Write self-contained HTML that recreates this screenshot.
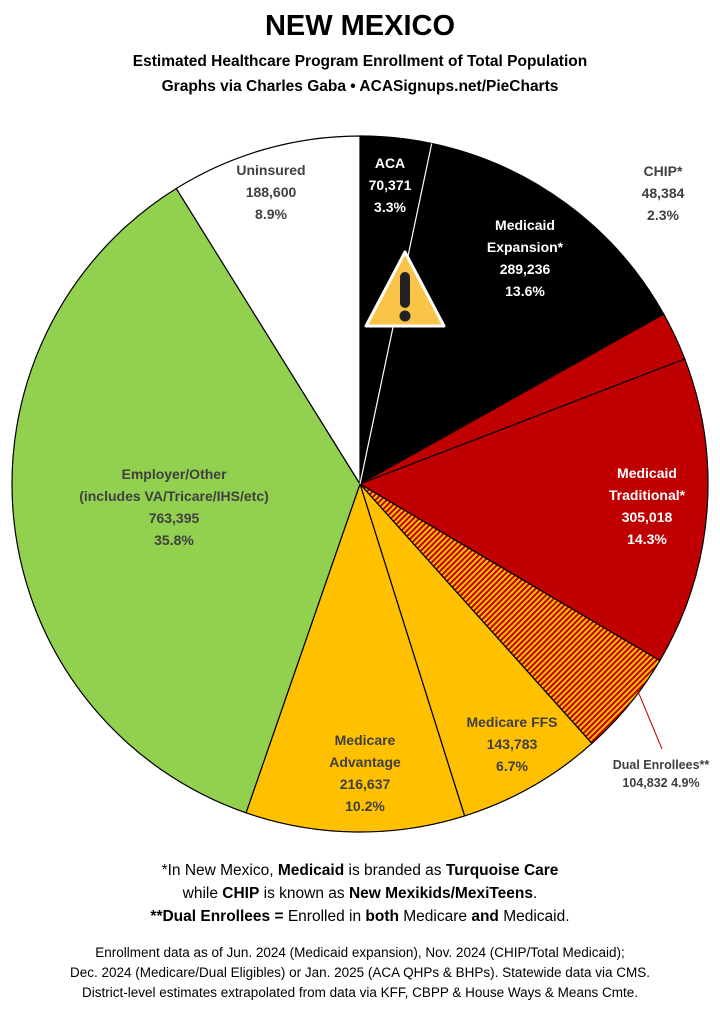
<!DOCTYPE html>
<html><head><meta charset="utf-8"><style>
body{margin:0;background:#fff;width:720px;height:1010px;overflow:hidden;font-family:"Liberation Sans",sans-serif}
svg text{font-family:"Liberation Sans",sans-serif;font-weight:bold}
</style></head><body>
<svg id="s" width="720" height="1010" xmlns="http://www.w3.org/2000/svg">
<defs>
<pattern id="h" patternUnits="userSpaceOnUse" width="4" height="4" patternTransform="rotate(45)">
<rect width="4" height="4" fill="#C00000"/><rect width="2" height="4" fill="#FFC000"/>
</pattern>
</defs>
<g id="pie"></g>
<polygon points="405,252 444,326 366,326" fill="#F9C447" stroke="#fff" stroke-width="3" stroke-linejoin="round"/>
<rect x="400" y="272" width="10" height="36" rx="5" fill="#222"/>
<circle cx="405" cy="316" r="5.5" fill="#222"/>
<line x1="637" y1="689" x2="662" y2="749" stroke="#C00000" stroke-width="1"/>
<text x="360" y="35" text-anchor="middle" font-size="29" fill="#000">NEW MEXICO</text>
<text x="360" y="66" text-anchor="middle" font-size="15.5" fill="#000">Estimated Healthcare Program Enrollment of Total Population</text>
<text x="360" y="91" text-anchor="middle" font-size="15.5" fill="#000">Graphs via Charles Gaba  •  ACASignups.net/PieCharts</text>
<g font-size="14" text-anchor="middle" fill="#fff">
<text x="390" y="168">ACA</text><text x="390" y="190">70,371</text><text x="390" y="212">3.3%</text>
<text x="525" y="230">Medicaid</text><text x="525" y="252">Expansion*</text><text x="525" y="274">289,236</text><text x="525" y="296">13.6%</text>
<text x="647" y="478">Medicaid</text><text x="647" y="500">Traditional*</text><text x="647" y="522">305,018</text><text x="647" y="544">14.3%</text>
</g>
<g font-size="14" text-anchor="middle" fill="#404040">
<text x="663" y="176">CHIP*</text><text x="663" y="198">48,384</text><text x="663" y="220">2.3%</text>
<text x="271" y="175">Uninsured</text><text x="271" y="197">188,600</text><text x="271" y="219">8.9%</text>
<text x="174" y="479">Employer/Other</text><text x="174" y="501">(includes VA/Tricare/IHS/etc)</text><text x="174" y="523">763,395</text><text x="174" y="545">35.8%</text>
<text x="512" y="727">Medicare FFS</text><text x="512" y="749">143,783</text><text x="512" y="771">6.7%</text>
<text x="365" y="745">Medicare</text><text x="365" y="767">Advantage</text><text x="365" y="789">216,637</text><text x="365" y="811">10.2%</text>
<text x="661" y="769" font-size="12.5">Dual Enrollees**</text><text x="661" y="787" font-size="12.5">104,832 4.9%</text>
</g>
<g font-family="Liberation Sans" font-size="15.5" text-anchor="middle" fill="#000" style="font-weight:normal">
<text x="360" y="875" style="font-weight:normal">*In New Mexico, <tspan font-weight="bold">Medicaid</tspan> is branded as <tspan font-weight="bold">Turquoise Care</tspan></text>
<text x="360" y="898" style="font-weight:normal">while <tspan font-weight="bold">CHIP</tspan> is known as <tspan font-weight="bold">New Mexikids/MexiTeens</tspan>.</text>
<text x="360" y="921" style="font-weight:normal"><tspan font-weight="bold">**Dual Enrollees =</tspan> Enrolled in <tspan font-weight="bold">both</tspan> Medicare <tspan font-weight="bold">and</tspan> Medicaid.</text>
</g>
<g font-size="13.5" text-anchor="middle" fill="#000">
<text x="360" y="957" style="font-weight:normal">Enrollment data as of Jun. 2024 (Medicaid expansion), Nov. 2024 (CHIP/Total Medicaid);</text>
<text x="360" y="977" style="font-weight:normal">Dec. 2024 (Medicare/Dual Eligibles) or Jan. 2025 (ACA QHPs &amp; BHPs). Statewide data via CMS.</text>
<text x="360" y="997" style="font-weight:normal">District-level estimates extrapolated from data via KFF, CBPP &amp; House Ways &amp; Means Cmte.</text>
</g>
</svg>
<script>
var d=[[70371,"#000","#fff"],[289236,"#000","#000"],[48384,"#C00000","#000"],[305018,"#C00000","#000"],[104832,"url(#h)","#000"],[143783,"#FFC000","#000"],[216637,"#FFC000","#000"],[763395,"#92D050","#000"],[188600,"#fff","#000"]];
var T=0;d.forEach(function(x){T+=x[0]});
var cx=360,cy=484,r=348,a=0,h="",g=document.getElementById("pie");
function pt(t){var th=t/T*2*Math.PI;return [cx+r*Math.sin(th),cy-r*Math.cos(th)];}
d.forEach(function(x){var p1=pt(a),p2=pt(a+x[0]);var lg=x[0]/T>0.5?1:0;
h+='<path d="M'+cx+','+cy+'L'+p1[0]+','+p1[1]+'A'+r+','+r+' 0 '+lg+' 1 '+p2[0]+','+p2[1]+'Z" fill="'+x[1]+'" stroke="#000" stroke-width="1.2"/>';a+=x[0];});
var p=pt(0),q=pt(70371);h+='<line x1="'+cx+'" y1="'+cy+'" x2="'+q[0]+'" y2="'+q[1]+'" stroke="#fff" stroke-width="1.2"/>';
g.innerHTML=h;
</script>
</body></html>
